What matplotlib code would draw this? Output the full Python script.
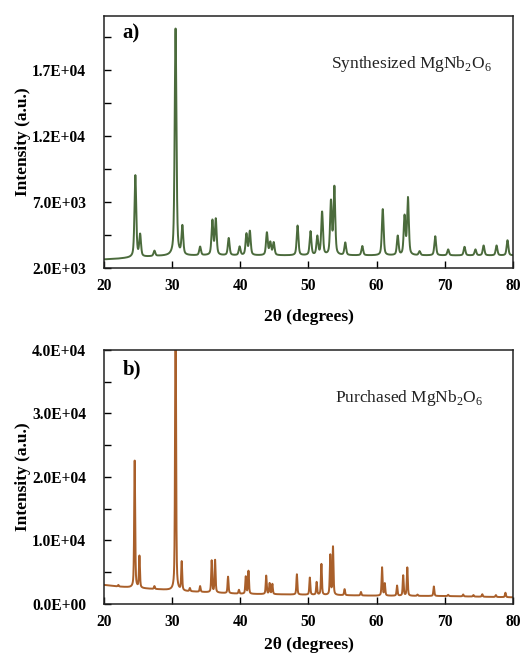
import numpy as np
import matplotlib
matplotlib.use("Agg")
import matplotlib.pyplot as plt
from matplotlib.ticker import MultipleLocator, FuncFormatter

# ---------------- data ----------------
# a) Synthesized MgNb2O6 : peak positions (2theta) and peak heights above background
syn_pos = [24.6, 25.3, 27.4, 30.5, 31.5, 34.1, 35.9, 36.4, 38.3, 39.9, 40.9, 41.4,
           43.9, 44.4, 44.9, 48.4, 50.3, 51.3, 52.0, 53.3, 53.8, 55.4, 57.9, 60.9,
           63.1, 64.1, 64.6, 66.3, 68.6, 70.5, 72.9, 74.5, 75.7, 77.6, 79.2]
syn_int = [6200, 1650, 400, 17200, 2150, 650, 2600, 2700, 1300, 650, 1600, 1800,
           1700, 950, 950, 2250, 1800, 1400, 3250, 4000, 5100, 950, 700, 3500,
           1450, 2900, 4300, 300, 1450, 450, 650, 450, 750, 750, 1150]
syn_bg_x = [20, 22, 24, 28, 35, 45, 55, 65, 75, 80]
syn_bg_y = [2650, 2700, 2780, 2900, 2950, 2950, 2950, 2950, 2950, 2950]

# b) Purchased MgNb2O6
pur_pos = [22.1, 24.5, 25.2, 27.4, 30.5, 31.4, 32.6, 34.1, 35.8, 36.3, 38.2, 39.8,
           40.8, 41.2, 43.8, 44.3, 44.7, 48.3, 50.2, 51.2, 51.9, 53.2, 53.6, 55.3,
           57.7, 60.8, 61.2, 63.0, 63.9, 64.5, 66.0, 68.4, 70.5, 72.7, 74.2, 75.5,
           77.5, 78.9]
pur_int = [250, 20000, 5000, 450, 46000, 4500, 500, 900, 5000, 5100, 2600, 600,
           2700, 3600, 2900, 1700, 1600, 3200, 2700, 2000, 4850, 6250, 7550, 950,
           550, 4450, 1900, 1600, 3200, 4450, 200, 1500, 200, 300, 250, 400, 300, 700]
pur_bg_x = [20, 22, 25, 28, 32, 40, 50, 60, 70, 80]
pur_bg_y = [3000, 2750, 2500, 2300, 2000, 1600, 1450, 1300, 1250, 1050]

x_ticks = [20, 30, 40, 50, 60, 70, 80]
syn_yticks = [2000, 7000, 12000, 17000]
pur_yticks = [0, 10000, 20000, 30000, 40000]

syn_color = "#4b6b3c"
pur_color = "#a95f2a"


def profile(x, pos, inten, fwhm, bgx, bgy):
    y = np.interp(x, bgx, bgy).astype(float)
    g = fwhm / 2.0
    for p, h in zip(pos, inten):
        lor = 1.0 / (1.0 + ((x - p) / g) ** 2)
        gau = np.exp(-np.log(2) * ((x - p) / g) ** 2)
        y += h * (0.5 * lor + 0.5 * gau)
    return y


x = np.arange(20, 80.001, 0.01)
y_syn = profile(x, syn_pos, syn_int, 0.30, syn_bg_x, syn_bg_y)
y_pur = profile(x, pur_pos, pur_int, 0.17, pur_bg_x, pur_bg_y)

plt.rcParams['font.family'] = ['Liberation Serif', 'DejaVu Serif']
plt.rcParams['mathtext.fontset'] = 'custom'
plt.rcParams['mathtext.rm'] = 'Liberation Serif'

fig = plt.figure(figsize=(5.29, 6.58), dpi=100)
ax1 = fig.add_axes([0.1966, 0.5927, 0.773, 0.383])
ax2 = fig.add_axes([0.1966, 0.0821, 0.773, 0.386])


def fmt(v, _):
    return "%.1E" % v


for ax, y, col, yt, ylim, label, tag, xpad in [
        (ax1, y_syn, syn_color, syn_yticks, (2000, 21100),
         r"Synthesized MgNb$_2$O$_6$", "a)", 11),
        (ax2, y_pur, pur_color, pur_yticks, (0, 40000),
         r"Purchased MgNb$_2$O$_6$", "b)", 5)]:
    ax.plot(x, y, color=col, lw=1.4)
    ax.set_xlim(20, 80)
    ax.set_ylim(*ylim)
    ax.set_xticks(x_ticks)
    ax.set_yticks(yt)
    if ax is ax1:
        ax.set_yticks([2000 + 2500 * k for k in range(8)], minor=True)
    else:
        ax.yaxis.set_minor_locator(MultipleLocator(5000))
    ax.yaxis.set_major_formatter(FuncFormatter(fmt))
    ax.tick_params(axis='both', which='both', direction='in', labelsize=11.2,
                   width=1)
    ax.tick_params(axis='x', which='major', length=5, pad=7)
    ax.tick_params(axis='y', which='major', length=5, pad=13)
    ax.tick_params(axis='y', which='minor', length=5)
    ax.tick_params(top=False, right=False)
    for lab in ax.get_xticklabels() + ax.get_yticklabels():
        lab.set_fontweight('bold')
    for sp in ax.spines.values():
        sp.set_linewidth(1.1)
        sp.set_color('#222222')
    ax.set_xlabel(r"2θ (degrees)", fontsize=12.5, fontweight='bold', labelpad=xpad)
    ax.set_ylabel("Intensity (a.u.)", fontsize=12.5, fontweight='bold', labelpad=1)
    ax.text(0.045, 0.93 if ax is ax1 else 0.925, tag, transform=ax.transAxes,
            fontsize=15, fontweight='bold', va='center', ha='left')
    ax.text(0.555 if ax is ax1 else 0.565, 0.81, label, transform=ax.transAxes,
            fontsize=12.5, va='center', ha='left', color='#222222')

fig.savefig("out.png", dpi=100)
